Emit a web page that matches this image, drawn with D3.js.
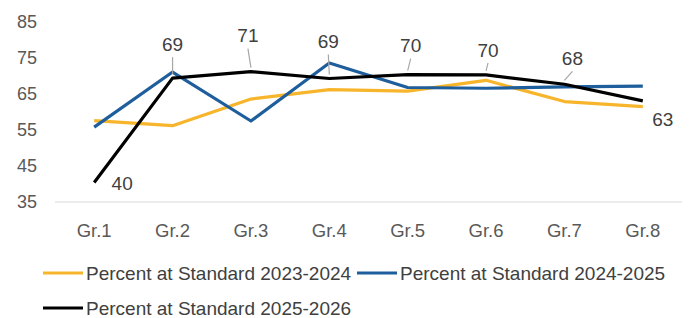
<!DOCTYPE html>
<html>
<head>
<meta charset="utf-8">
<script src="https://cdn.jsdelivr.net/npm/d3@7"></script>
<style>
body { margin: 0; background: #fff; }
svg { font-family: "Liberation Sans", Arial, sans-serif; }
</style>
</head>
<body>
<svg id="chart" width="691" height="318"></svg>
<script>
// chart values
var grades = ["Gr.1", "Gr.2", "Gr.3", "Gr.4", "Gr.5", "Gr.6", "Gr.7", "Gr.8"];
var yTicks = [35, 45, 55, 65, 75, 85];
var pct2324 = [57.6, 56.2, 63.6, 66.2, 65.8, 68.8, 62.9, 61.5];
var pct2425 = [55.8, 71.1, 57.5, 73.6, 66.8, 66.6, 67.0, 67.2];
var pct2526 = [40.4, 69.4, 71.2, 69.3, 70.4, 70.3, 67.7, 63.1];
var seriesNames = ["Percent at Standard 2023-2024", "Percent at Standard 2024-2025", "Percent at Standard 2025-2026"];
var seriesColors = ["#F7B52C", "#1F5E9C", "#000000"];

// where Excel put each data label (label centre, relative to the point)
var labelDx = [28, 0, -3, -1, 3, 2, 8, 20];
var labelDy = [1, -34, -36, -37, -29, -25, -26, 19];

var svg = d3.select("#chart");
var mLeft = 55, mRight = 682, mTop = 22, mBottom = 202;

var x = d3.scaleBand().domain(grades).range([mLeft, mRight]);
var y = d3.scaleLinear().domain([35, 85]).range([mBottom, mTop]);
var cx = function(d, i){ return x(grades[i]) + x.bandwidth() / 2; };

// axis line
svg.append("line")
	.attr("x1", mLeft).attr("x2", mRight)
	.attr("y1", y(35)).attr("y2", y(35))
	.attr("stroke", "#d9d9d9").attr("stroke-width", 1);

// y tick labels
svg.selectAll(".ytick").data(yTicks).enter().append("text")
	.attr("class", "ytick")
	.attr("x", 37).attr("y", function(d){ return y(d); })
	.attr("dy", "0.35em")
	.attr("text-anchor", "end")
	.attr("font-size", 18).attr("fill", "#595959")
	.text(function(d){ return d; });

// x tick labels
svg.selectAll(".xtick").data(grades).enter().append("text")
	.attr("class", "xtick")
	.attr("x", function(d){ return x(d) + x.bandwidth() / 2; })
	.attr("y", 231).attr("dy", "0.35em")
	.attr("text-anchor", "middle")
	.attr("font-size", 18.5).attr("fill", "#595959")
	.text(function(d){ return d; });

// lines
var line = d3.line().x(cx).y(function(d){ return y(d); });
[pct2324, pct2425, pct2526].forEach(function(vals, k){
	svg.append("path")
		.datum(vals)
		.attr("d", line)
		.attr("fill", "none")
		.attr("stroke", seriesColors[k])
		.attr("stroke-width", 3.2)
		.attr("stroke-linejoin", "round");
});

// data labels on 2025-2026 with leader lines
var pts = pct2526.map(function(v, i){
	return { v: v, px: cx(v, i), py: y(v), lx: cx(v, i) + labelDx[i], ly: y(v) + labelDy[i], leader: labelDy[i] < -20 };
});
svg.selectAll(".leader").data(pts.filter(function(p){ return p.leader; })).enter().append("line")
	.attr("class", "leader")
	.attr("x1", function(p){ return p.lx; })
	.attr("y1", function(p){ return p.ly + 13; })
	.attr("x2", function(p){ return p.px; })
	.attr("y2", function(p){ return p.py - 4; })
	.attr("stroke", "#a6a6a6").attr("stroke-width", 1.2);
svg.selectAll(".lab").data(pts).enter().append("text")
	.attr("class", "lab")
	.attr("x", function(p){ return p.lx; })
	.attr("y", function(p){ return p.ly; })
	.attr("dy", "0.35em")
	.attr("text-anchor", "middle")
	.attr("font-size", 19).attr("fill", "#404040")
	.text(function(p){ return d3.format(".0f")(p.v); });

// legend
var legendPos = [[43, 273], [357, 273], [43, 308]];
var leg = svg.selectAll(".leg").data(seriesNames).enter().append("g")
	.attr("class", "leg")
	.attr("transform", function(d, i){ return "translate(" + legendPos[i][0] + "," + legendPos[i][1] + ")"; });
leg.append("line")
	.attr("x1", 0).attr("x2", 40)
	.attr("stroke", function(d, i){ return seriesColors[i]; })
	.attr("stroke-width", 3.2);
leg.append("text")
	.attr("x", 43).attr("dy", "0.35em")
	.attr("font-size", 19).attr("fill", "#404040")
	.text(function(d){ return d; });
</script>
</body>
</html>
